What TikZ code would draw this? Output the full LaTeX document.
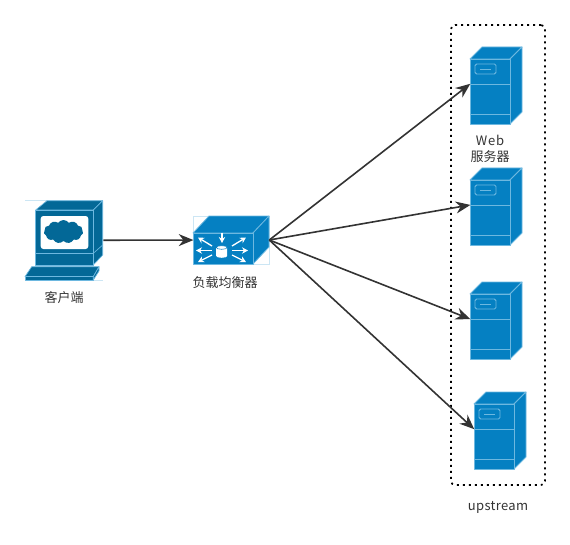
\documentclass[tikz,border=0pt]{standalone}
\usepackage{fontspec}
\setmainfont{Noto Sans CJK SC}
\usetikzlibrary{shapes.symbols, positioning, arrows.meta}

\definecolor{srvblue}{HTML}{0580C2}
\definecolor{srvedge}{HTML}{6DB8E0}
\definecolor{pcblue}{HTML}{036897}
\definecolor{inkgray}{HTML}{333333}

\tikzset{
    face/.style={draw=srvedge, fill=srvblue, line width=0.6pt, line join=round},
    pcface/.style={draw=srvedge, fill=pcblue, line width=0.5pt, line join=round},
    port/.style={inner sep=0pt, minimum size=0pt},
    label/.style={font=\fontsize{9.75pt}{12pt}\selectfont, text=inkgray, align=center, inner sep=0pt},
    arrow/.style={draw=inkgray, line width=1.2pt, -{Stealth[length=11pt, width=9pt]}, shorten >=-0.5pt},
    whitearrow/.style={draw=white, line width=1pt, -{Stealth[length=4.5pt, width=4.8pt]}},
    server/.pic={
        \path[face] (0,0) -- (12,-12) -- (52,-12) -- (40,0) -- cycle;
        \path[face] (40,0) -- (52,-12) -- (52,53) -- (40,65) -- cycle;
        \node[face, anchor=north west, inner sep=0pt, minimum width=30pt, minimum height=48.75pt] (-front) at (0,0) {};
        \draw[srvedge, line width=0.6pt] (0,25) -- (40,25);
        \draw[srvedge, line width=0.6pt] (0,55) -- (40,55);
        \draw[srvedge, line width=0.7pt, rounded corners=1.2pt] (5,5) rectangle (26,15);
        \draw[srvedge, line width=0.7pt] (10,10) -- (21,10);
        \node[port] (-port) at (0,25) {};
    }
}

\begin{document}
\begin{tikzpicture}[x=0.75pt, y=-0.75pt]
\useasboundingbox (0,0) rectangle (570,545);

% Client
\node[inner sep=0pt, minimum width=58.5pt, minimum height=59.5pt] (client) at (64,240.3) {};
\draw[srvedge!35, line width=0.5pt] (25,200.7) -- (47,200.7) (25,280) -- (103,280);
\path[pcface] (35.7,210) -- (47,200.7) -- (102.7,200.7) -- (93.3,210) -- cycle;
\path[pcface] (93.3,210) -- (102.7,200.7) -- (102.7,255) -- (93.3,265) -- cycle;
\path[pcface] (35.7,210) rectangle (93.3,253.3);
\path[pcface] (35.7,253.3) rectangle (93.3,265);
\draw[srvedge, line width=0.5pt] (93.3,253.3) -- (102.7,245);
\path[fill=white, rounded corners=2pt] (40.7,216) rectangle (88.3,249);
\node[cloud, cloud puffs=11, cloud puff arc=110, aspect=1.8, fill=pcblue, inner sep=0pt, minimum width=29.5pt, minimum height=17.5pt] (cloudicon) at (63.5,231.7) {};
\path[pcface] (25,276.7) -- (31.7,266.7) -- (99,266.7) -- (93.3,276.7) -- cycle;
\path[pcface] (25,276.7) rectangle (93.3,280);
\path[pcface] (93.3,276.7) -- (99,266.7) -- (99,271) -- (93.3,280) -- cycle;
\node[label, below=8pt of client] (clientlabel) {客户端};

% Load balancer
\node[draw=srvedge!35, line width=0.4pt, inner sep=0pt, minimum width=57pt, minimum height=36pt] (balancer) at (231,240) {};
\path[face] (193,233) -- (209,216) -- (269,216) -- (253,233) -- cycle;
\path[face] (253,233) -- (269,216) -- (269,247) -- (253,264) -- cycle;
\path[face] (193,233) rectangle (253,264);
\draw[whitearrow] (222,232.5) -- (222,243);
\draw[whitearrow] (212,246) -- (198,237.5);
\draw[whitearrow] (212,250.5) -- (196,250.5);
\draw[whitearrow] (212,255) -- (198,262);
\draw[whitearrow] (232,246) -- (246,237.5);
\draw[whitearrow] (232,250.5) -- (248,250.5);
\draw[whitearrow] (232,255) -- (246,262);
\path[fill=white] (216.2,247.5) -- (216.2,256) arc[start angle=180, end angle=0, x radius=5.5, y radius=1.8] -- (227.2,247.5) -- cycle;
\path[fill=white, draw=srvblue, line width=0.4pt] (221.7,247.5) ellipse[x radius=5.5, y radius=1.8];
\node[label] (balancerlabel) at (225,283) {负载均衡器};

% Servers
\pic (srvA) at (470,59) {server};
\pic (srvB) at (470,180) {server};
\pic (srvC) at (470,294) {server};
\pic (srvD) at (474,404) {server};
\node[label] (weblabel) at (490,149) {\addfontfeature{LetterSpace=6}Web\\服务器};

% Upstream group
\node[draw=black, line width=1.3pt, dash pattern=on 1.5pt off 3pt, rounded corners=3pt, inner sep=0pt, minimum width=70.5pt, minimum height=345pt] (upstream) at (498,255) {};
\node[label] (upstreamlabel) at (498,507) {\addfontfeature{LetterSpace=2.5}upstream};

\draw[arrow] (client) -- (balancer);
\draw[arrow] (balancer.east) -- (srvA-port);
\draw[arrow] (balancer.east) -- (srvB-port);
\draw[arrow] (balancer.east) -- (srvC-port);
\draw[arrow] (balancer.east) -- (srvD-port);

\end{tikzpicture}
\end{document}
